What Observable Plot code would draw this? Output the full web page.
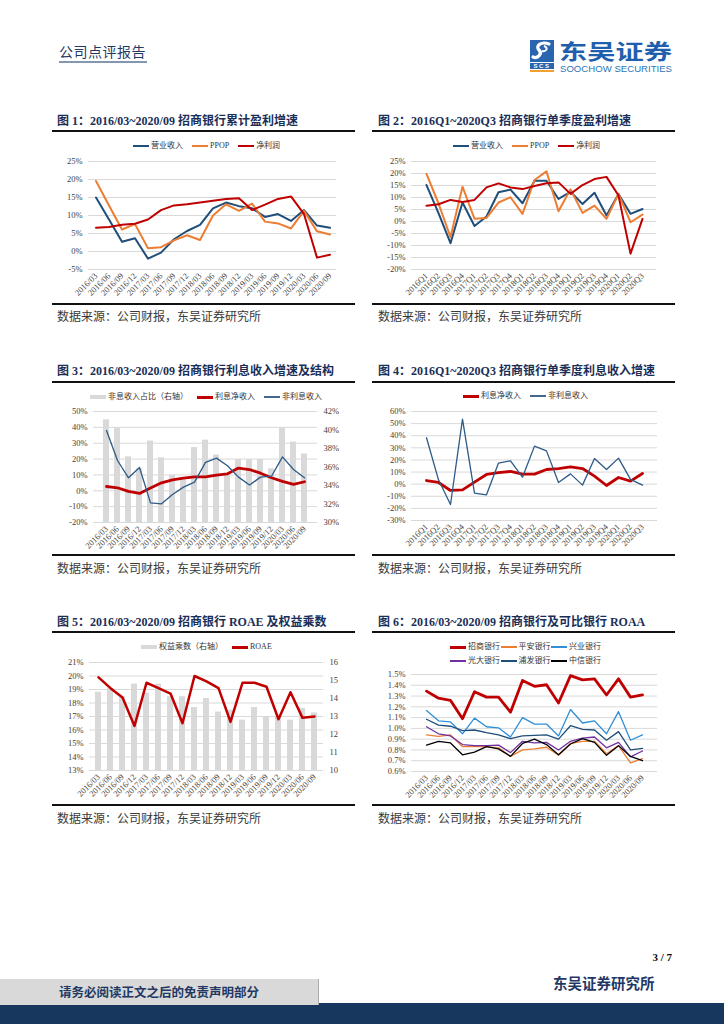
<!DOCTYPE html>
<html><head><meta charset="utf-8">
<script src="https://cdn.jsdelivr.net/npm/d3@7"></script>
<script src="https://cdn.jsdelivr.net/npm/@observablehq/plot@0.6"></script>
<style>
body{margin:0;background:#fff;}
#page{position:relative;width:724px;height:1024px;overflow:hidden;font-family:"Liberation Serif","Noto Sans CJK SC",serif;}
.title{position:absolute;font-size:12px;font-weight:bold;color:#1A2F58;white-space:nowrap;line-height:14px;}
.rule{position:absolute;height:2px;background:#111;}
.source{position:absolute;font-size:12px;color:#3a3a3a;font-family:"Noto Sans CJK SC",sans-serif;white-space:nowrap;line-height:14px;}
.legend{position:absolute;display:flex;align-items:center;white-space:nowrap;font-size:8px;color:#333;font-family:"Liberation Serif","Noto Sans CJK SC",serif;line-height:10px;}
.item{display:flex;align-items:center;}
.sw{display:inline-block;width:16px;margin-right:2px;}
.chart{position:absolute;}
.chart svg{overflow:visible;}
</style>
</head><body><div id="page"></div>
<script>
// ---------- data ----------
const periodsM = ["2016/03","2016/06","2016/09","2016/12","2017/03","2017/06","2017/09","2017/12","2018/03","2018/06","2018/09","2018/12","2019/03","2019/06","2019/09","2019/12","2020/03","2020/06","2020/09"];
const periodsQ = ["2016Q1","2016Q2","2016Q3","2016Q4","2017Q1","2017Q2","2017Q3","2017Q4","2018Q1","2018Q2","2018Q3","2018Q4","2019Q1","2019Q2","2019Q3","2019Q4","2020Q1","2020Q2","2020Q3"];

// Fig 1: cumulative growth (%)
const c1Revenue = [15.0, 8.9, 2.7, 3.7, -2.0, -0.3, 3.4, 5.7, 7.4, 12.0, 13.6, 12.6, 12.0, 9.6, 10.4, 8.5, 11.5, 7.2, 6.6];
const c1PPOP    = [19.6, 12.8, 6.1, 7.6, 0.9, 1.2, 3.1, 4.5, 3.2, 10.0, 13.1, 11.3, 13.3, 8.3, 7.8, 6.4, 11.3, 5.6, 4.7];
const c1Net     = [6.6, 6.8, 7.4, 7.7, 8.9, 11.5, 12.8, 13.1, 13.6, 14.1, 14.6, 14.8, 11.5, 13.0, 14.6, 15.3, 10.4, -1.7, -0.9];
const c1Ticks = [-5, 0, 5, 10, 15, 20, 25];

// Fig 2: single-quarter growth (%)
const c2Revenue = [15.2, 3.5, -9.0, 7.9, -1.9, 2.1, 12.2, 13.3, 7.6, 17.0, 17.0, 9.4, 12.4, 7.3, 12.0, 2.5, 11.5, 3.2, 5.2];
const c2PPOP    = [19.8, 7.5, -6.5, 14.5, 1.1, 1.5, 7.9, 10.1, 3.2, 17.3, 20.9, 4.3, 13.4, 3.6, 6.6, 1.1, 11.5, -0.3, 2.9];
const c2Net     = [6.6, 7.2, 9.0, 8.1, 9.0, 14.2, 15.9, 14.2, 13.5, 14.8, 15.9, 16.3, 11.5, 15.2, 17.7, 18.6, 10.8, -13.4, 1.1];
const c2Ticks = [-20, -15, -10, -5, 0, 5, 10, 15, 20, 25];

// Fig 3: interest income growth and structure
const c3NonIntShare = [41.1, 40.2, 37.1, 35.8, 38.8, 37.0, 35.1, 34.6, 38.1, 38.9, 37.3, 35.3, 36.8, 36.8, 36.8, 35.8, 40.2, 38.7, 37.4]; // right axis %
const c3NII    = [2.7, 1.9, -0.4, -1.7, 1.7, 5.0, 6.9, 8.0, 8.8, 8.8, 9.9, 10.7, 14.3, 13.4, 11.1, 8.2, 5.9, 4.0, 5.7];
const c3NonInt = [38.0, 19.1, 8.2, 14.7, -7.6, -8.2, -2.3, 2.3, 5.5, 17.9, 20.6, 15.8, 8.6, 3.6, 8.6, 9.2, 21.4, 13.4, 8.2];
const c3Ticks = [-20, -10, 0, 10, 20, 30, 40, 50];
const c3RightTicks = [30, 32, 34, 36, 38, 40, 42];

// Fig 4: single-quarter interest income growth
const c4NII    = [3.0, 1.4, -5.2, -4.7, 1.7, 8.0, 9.6, 10.5, 8.3, 8.3, 12.1, 12.9, 14.3, 12.9, 6.6, -1.1, 5.5, 2.5, 8.8];
const c4NonInt = [38.3, 3.6, -16.8, 53.7, -7.4, -8.8, 17.4, 19.3, 5.8, 31.4, 27.5, 1.4, 8.5, -0.8, 21.2, 12.1, 21.5, 3.9, -0.8];
const c4Ticks = [-30, -20, -10, 0, 10, 20, 30, 40, 50, 60];

// Fig 5: ROAE and equity multiplier
const c5Equity = [14.35, 14.55, 14.1, 14.8, 14.3, 14.8, 14.1, 14.1, 13.5, 14.0, 13.25, 13.35, 12.8, 13.5, 13.0, 12.95, 12.8, 13.45, 13.2]; // right axis
const c5ROAE   = [19.9, 19.1, 18.4, 16.3, 19.5, 19.1, 18.7, 16.5, 20.0, 19.6, 19.1, 16.6, 19.5, 19.5, 19.2, 16.8, 18.8, 16.9, 17.0];
const c5Ticks = [13, 14, 15, 16, 17, 18, 19, 20, 21];
const c5RightTicks = [10, 11, 12, 13, 14, 15, 16];

// Fig 6: ROAA of CMB and peers (%)
const c6CMB         = [1.346, 1.28, 1.26, 1.09, 1.34, 1.29, 1.29, 1.15, 1.445, 1.39, 1.405, 1.235, 1.49, 1.45, 1.46, 1.31, 1.46, 1.29, 1.31];
const c6PingAn      = [0.94, 0.925, 0.94, 0.83, 0.83, 0.83, 0.82, 0.74, 0.80, 0.81, 0.825, 0.75, 0.86, 0.88, 0.88, 0.765, 0.84, 0.68, 0.72];
const c6Industrial  = [1.165, 1.07, 1.06, 0.95, 1.095, 1.015, 1.005, 0.92, 1.10, 1.04, 1.04, 0.93, 1.175, 1.05, 1.07, 0.95, 1.155, 0.89, 0.94];
const c6Everbright  = [1.015, 0.95, 0.93, 0.85, 0.84, 0.84, 0.845, 0.775, 0.88, 0.865, 0.87, 0.80, 0.88, 0.91, 0.92, 0.82, 0.87, 0.735, 0.79];
const c6SPDB        = [1.085, 1.03, 1.02, 0.98, 0.985, 0.96, 0.94, 0.905, 0.93, 0.935, 0.94, 0.90, 1.025, 0.99, 0.985, 0.89, 0.97, 0.80, 0.815];
const c6CITIC       = [0.845, 0.88, 0.865, 0.755, 0.78, 0.83, 0.81, 0.74, 0.86, 0.90, 0.85, 0.755, 0.855, 0.905, 0.87, 0.75, 0.84, 0.74, 0.70];
const c6Ticks = [0.6, 0.7, 0.8, 0.9, 1.0, 1.1, 1.2, 1.3, 1.4, 1.5];

const titles = [
  "图 1：2016/03~2020/09 招商银行累计盈利增速",
  "图 2：2016Q1~2020Q3 招商银行单季度盈利增速",
  "图 3：2016/03~2020/09 招商银行利息收入增速及结构",
  "图 4：2016Q1~2020Q3 招商银行单季度利息收入增速",
  "图 5：2016/03~2020/09 招商银行 ROAE 及权益乘数",
  "图 6：2016/03~2020/09 招商银行及可比银行 ROAA"
];
const sourceText = "数据来源：公司财报，东吴证券研究所";

// colors
const BLUE = "#1F4E79", ORANGE = "#ED7D31", RED = "#C00000", GRAY = "#D9D9D9";

// ---------- page scaffolding ----------
const page = document.getElementById("page");
function el(tag, cls, style, text) {
  const e = document.createElement(tag);
  if (cls) e.className = cls;
  Object.assign(e.style, style || {});
  if (text != null) e.textContent = text;
  page.appendChild(e);
  return e;
}

// header
el("div", null, {position:"absolute", left:"59px", top:"43px", fontSize:"14px", color:"#1F3864", fontFamily:"'Noto Sans CJK SC',sans-serif", lineHeight:"16px", letterSpacing:"0.5px"}, "公司点评报告");
el("div", null, {position:"absolute", left:"59px", top:"61px", width:"88px", height:"2px", background:"#8497B0"});
const logo = document.createElementNS("http://www.w3.org/2000/svg","svg");
logo.setAttribute("width","152"); logo.setAttribute("height","46");
logo.style.cssText = "position:absolute;left:527px;top:34px;overflow:visible;";
logo.innerHTML = `
  <rect x="3" y="6" width="24" height="22" fill="#2A66B0"/>
  <path d="M22 10 C14 7 8 12 12 16 C16 20 10 25 6 23" stroke="#fff" stroke-width="3.2" fill="none" stroke-linecap="round"/>
  <path d="M17 12 C22 14 19 18 15 17" stroke="#fff" stroke-width="2" fill="none"/>
  <rect x="3" y="29" width="24" height="6" fill="#2A66B0"/>
  <text x="15" y="34.3" font-size="6" font-family="Liberation Sans, sans-serif" font-weight="bold" fill="#fff" text-anchor="middle" letter-spacing="1.5">SCS</text>
  <rect x="3" y="36" width="24" height="2" fill="#F0A030"/>
  <text x="32" y="25" font-size="21" font-weight="bold" font-family="Noto Sans CJK SC, sans-serif" fill="#1F5FAD" textLength="113" lengthAdjust="spacingAndGlyphs">东吴证券</text>
  <text x="33" y="38" font-size="9" font-family="Liberation Sans, sans-serif" fill="#2E75B6" textLength="112" lengthAdjust="spacingAndGlyphs">SOOCHOW SECURITIES</text>`;
page.appendChild(logo);

// panels
const panelX = [[52, 57], [372, 378]];
const rowY = [{title:114, rule:130, bottom:303, source:309}, {title:364, rule:381, bottom:554, source:561}, {title:615, rule:631, bottom:804, source:811}];
titles.forEach((t, k) => {
  const col = k % 2, row = Math.floor(k / 2);
  const [rx, tx] = panelX[col], y = rowY[row];
  el("div", "title", {left: tx + "px", top: y.title + "px"}, t);
  el("div", "rule", {left: rx + "px", top: y.rule + "px", width: "303px"});
  el("div", "rule", {left: rx + "px", top: y.bottom + "px", width: "303px"});
  el("div", "source", {left: tx + "px", top: y.source + "px"}, sourceText);
});

// footer
el("div", null, {position:"absolute", right:"52px", top:"951px", fontSize:"11px", fontWeight:"bold", color:"#111", fontFamily:"'Liberation Serif',serif"}, "3 / 7");
el("div", null, {position:"absolute", left:"0", top:"1003px", width:"724px", height:"21px", background:"#17375E"});
el("div", null, {position:"absolute", left:"0", top:"979px", width:"318px", height:"26px", background:"#D9D9D9", borderRight:"1px solid #aaa"});
el("div", null, {position:"absolute", left:"0", top:"984px", width:"318px", textAlign:"center", fontSize:"12.5px", fontWeight:"bold", color:"#1F3864", fontFamily:"'Noto Sans CJK SC',sans-serif", lineHeight:"16px"}, "请务必阅读正文之后的免责声明部分");
el("div", null, {position:"absolute", left:"553px", top:"974px", fontSize:"14.5px", fontWeight:"bold", color:"#1F3864", fontFamily:"'Noto Sans CJK SC',sans-serif", lineHeight:"18px"}, "东吴证券研究所");

// ---------- legends ----------
function legend(left, top, items, itemWidth) {
  const box = el("div", "legend", {left: left + "px", top: top + "px", gap: itemWidth ? "0px" : "9px"});
  for (const it of items) {
    const d = document.createElement("div");
    d.className = "item";
    if (itemWidth) d.style.width = itemWidth + "px";
    const s = document.createElement("span");
    s.className = "sw";
    s.style.height = it.h + "px";
    s.style.background = it.color;
    d.appendChild(s);
    const l = document.createElement("span");
    l.textContent = it.label;
    d.appendChild(l);
    box.appendChild(d);
  }
}
legend(133, 141, [{label:"营业收入", color:BLUE, h:2}, {label:"PPOP", color:ORANGE, h:2}, {label:"净利润", color:RED, h:2}]);
legend(453, 141, [{label:"营业收入", color:BLUE, h:2}, {label:"PPOP", color:ORANGE, h:2}, {label:"净利润", color:RED, h:2}]);
legend(90, 392, [{label:"非息收入占比（右轴）", color:GRAY, h:4}, {label:"利息净收入", color:RED, h:3}, {label:"非利息收入", color:"#44678F", h:1.5}]);
legend(463, 391, [{label:"利息净收入", color:RED, h:3}, {label:"非利息收入", color:"#44678F", h:1.5}]);
legend(141, 642, [{label:"权益乘数（右轴）", color:GRAY, h:4}, {label:"ROAE", color:RED, h:3}]);
legend(450, 642, [{label:"招商银行", color:RED, h:3}, {label:"平安银行", color:ORANGE, h:1.5}, {label:"兴业银行", color:"#2F8FD8", h:1.5}], 50.5);
legend(450, 656, [{label:"光大银行", color:"#7030A0", h:1.5}, {label:"浦发银行", color:BLUE, h:1.5}, {label:"中信银行", color:"#000", h:1.5}], 50.5);

// ---------- charts ----------
function drawChart(cfg) {
  const {periods, left, top, width, height, mt, mb, ml, mr, yDomain, yTicks, yFmt, series, bars, right} = cfg;
  const marks = [Plot.gridY(yTicks, {stroke:"#D9D9D9", strokeOpacity:1, strokeWidth:1})];
  let toLeft, fromLeft;
  if (right) {
    const [r0, r1] = right.domain, [l0, l1] = yDomain;
    toLeft = r => l0 + (r - r0) / (r1 - r0) * (l1 - l0);
    fromLeft = l => r0 + (l - l0) / (l1 - l0) * (r1 - r0);
  }
  if (bars) {
    marks.push(Plot.barY(periods.map((p, i) => ({p, lo: yDomain[0], v: toLeft(bars.values[i])})), {x:"p", y1:"lo", y2:"v", fill:bars.color}));
  }
  for (const s of series) {
    marks.push(Plot.line(periods.map((p, i) => ({p, v: s.values[i]})), {x:"p", y:"v", stroke:s.color, strokeWidth:s.width, strokeLinejoin:"round", strokeLinecap:"round"}));
  }
  marks.push(Plot.axisY(yTicks, {tickSize:0, tickPadding:6, tickFormat:yFmt, label:null}));
  if (right) {
    marks.push(Plot.axisY(right.ticks.map(toLeft), {anchor:"right", tickSize:0, tickPadding:6, tickFormat: d => right.fmt(fromLeft(d)), label:null}));
  }
  marks.push(Plot.axisX({tickRotate:-45, tickSize:0, tickPadding:5, label:null}));
  const svg = Plot.plot({
    width, height, marginTop:mt, marginBottom:mb, marginLeft:ml, marginRight:mr,
    x: {type:"band", domain:periods, paddingInner:0.5, paddingOuter:0.25, label:null},
    y: {domain:yDomain, label:null},
    style: {fontFamily:"'Liberation Serif', serif", fontSize:"8.5px", color:"#404040", background:"transparent", overflow:"visible"},
    marks
  });
  const holder = el("div", "chart", {left: left + "px", top: top + "px", width: width + "px", height: height + "px"});
  holder.appendChild(svg);
}

const pct = d => d + "%";

drawChart({periods:periodsM, left:52, top:152, width:303, height:150, mt:9, mb:33, ml:36, mr:19,
  yDomain:[-5, 25], yTicks:c1Ticks, yFmt:pct,
  series:[{values:c1Revenue, color:BLUE, width:2}, {values:c1PPOP, color:ORANGE, width:2}, {values:c1Net, color:RED, width:2}]});

drawChart({periods:periodsQ, left:372, top:152, width:303, height:150, mt:9, mb:33, ml:39, mr:19,
  yDomain:[-20, 25], yTicks:c2Ticks, yFmt:pct,
  series:[{values:c2Revenue, color:BLUE, width:2}, {values:c2PPOP, color:ORANGE, width:2}, {values:c2Net, color:RED, width:2}]});

drawChart({periods:periodsM, left:52, top:402, width:303, height:150, mt:9, mb:30, ml:41, mr:38,
  yDomain:[-20, 50], yTicks:c3Ticks, yFmt:pct,
  bars:{values:c3NonIntShare, color:GRAY},
  right:{domain:[30, 42], ticks:c3RightTicks, fmt: v => Math.round(v) + "%"},
  series:[{values:c3NII, color:RED, width:2.8}, {values:c3NonInt, color:"#2E5A87", width:1.3}]});

drawChart({periods:periodsQ, left:372, top:402, width:303, height:150, mt:9, mb:32, ml:39, mr:18,
  yDomain:[-30, 60], yTicks:c4Ticks, yFmt:pct,
  series:[{values:c4NII, color:RED, width:2.8}, {values:c4NonInt, color:"#2E5A87", width:1.3}]});

drawChart({periods:periodsM, left:52, top:652, width:303, height:150, mt:10, mb:32, ml:37, mr:32,
  yDomain:[13, 21], yTicks:c5Ticks, yFmt:pct,
  bars:{values:c5Equity, color:GRAY},
  right:{domain:[10, 16], ticks:c5RightTicks, fmt: v => String(Math.round(v))},
  series:[{values:c5ROAE, color:RED, width:2.5}]});

drawChart({periods:periodsM, left:372, top:666, width:303, height:136, mt:8, mb:31, ml:39, mr:18,
  yDomain:[0.6, 1.5], yTicks:c6Ticks, yFmt: d => d.toFixed(1) + "%",
  series:[
    {values:c6CMB, color:RED, width:2.8},
    {values:c6PingAn, color:ORANGE, width:1.3},
    {values:c6Industrial, color:"#2F8FD8", width:1.3},
    {values:c6Everbright, color:"#7030A0", width:1.3},
    {values:c6SPDB, color:BLUE, width:1.3},
    {values:c6CITIC, color:"#000", width:1.3}
  ]});
</script>
</body></html>
